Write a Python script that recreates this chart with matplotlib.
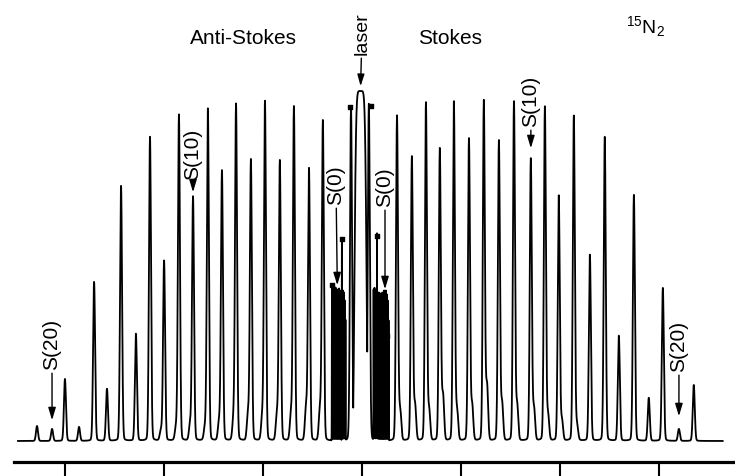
import numpy as np
import matplotlib
matplotlib.use("Agg")
import matplotlib.pyplot as plt

plt.rcParams['font.family'] = ['Liberation Sans', 'DejaVu Sans']
plt.rcParams['mathtext.default'] = 'regular'

# ---- data (Raman shift in cm-1, anti-Stokes negative; intensity arb.) ----
anti_stokes_shift = [-163.9, -156.3, -149.8, -142.7, -135.1, -128.6, -121.5, -114.0, -106.9,
                     -99.8, -92.3, -85.2, -77.7, -70.6, -63.5, -56.0, -48.9, -41.4, -34.3,
                     -26.7, -19.7]
anti_stokes_int = [15, 12, 62, 14, 159, 52, 255, 107, 304, 180, 326, 244, 332, 270, 336, 281,
                   339, 280, 334, 272, 320]

stokes_shift = [17.7, 25.2, 32.3, 39.3, 46.4, 54.0, 61.5, 69.1, 76.7, 85.2, 92.3, 99.3, 106.9,
                115.0, 122.5, 129.6, 137.2, 144.7, 151.8, 159.9, 167.4]
stokes_int = [325, 284, 338, 292, 339, 302, 340, 300, 339, 282, 334, 245, 325, 186, 304, 105,
              246, 43, 153, 12, 56]

# strong lines flanking the laser
flank_shift = [-5.5, 3.5]
flank_int = [334, 337]

# densely packed, heavily inked S(0) regions
as0_shift = [-15.1, -14.65, -14.2, -13.75, -13.3, -12.85, -12.4, -11.95, -11.5, -11.05,
             -10.6, -10.1, -9.65, -9.2, -8.75, -8.3]
as0_int = [155, 150, 152, 148, 153, 150, 151, 149, 152, 150, 148, 200, 150, 148, 140, 120]
s0_shift = [5.9, 6.35, 6.8, 7.25, 7.6, 8.05, 8.5, 8.95, 9.4, 9.85, 10.3, 10.75, 11.2, 11.65,
            12.1, 12.55, 13.0, 13.45]
s0_int = [150, 152, 150, 148, 207, 146, 148, 145, 147, 146, 148, 145, 150, 147, 150, 146,
          140, 120]

# weak shoulders at the feet of the rotational lines
weak_shift = [-101.4, -93.8, -86.7, -79.2, -72.1, -64.8, -57.5, -50.3, -42.9, -35.8, -28.2,
              -21.2, 19.3, 26.8, 33.9, 40.9, 48.0, 55.6, 63.1, 70.7, 78.3, 86.8, 93.9, 100.9,
              108.5]
weak_int = [10, 12, 15, 12, 18, 20, 25, 22, 25, 25, 32, 30, 30, 35, 30, 45, 30, 35, 55, 37,
            35, 32, 25, 20, 15]

laser_shift = -0.7
laser_int = 350
laser_halfwidth = 3.2

# small square markers (shift, intensity)
marker_shift = [-6.1, 4.6, -10.1, -15.1, 7.6, 12.6]
marker_int = [334, 335, 202, 156, 205, 105]

tick_values = [-150, -100, -50, 0, 50, 100, 150]

label_text = ['S(20)', 'S(10)', 'S(0)', 'S(0)', 'S(10)', 'S(20)']

# ---- build trace ----
x = np.arange(-173.5, 182.0, 0.01)


def add_lines(pos, hts, sigma, gamma=0.8, frac=0.04):
    out = np.zeros_like(x)
    for p, h in zip(pos, hts):
        out += h * ((1 - frac) * np.exp(-0.5 * ((x - p) / sigma)**2)
                    + frac * gamma**2 / ((x - p)**2 + gamma**2))
    return out


lines = add_lines(anti_stokes_shift + flank_shift + stokes_shift,
                  anti_stokes_int + flank_int + stokes_int, 0.5)
lines += add_lines(weak_shift, weak_int, 0.55, frac=0.0)
lines += add_lines(as0_shift + s0_shift, as0_int + s0_int, 0.07, frac=0.0)
laser = laser_int * np.exp(-np.abs((x - laser_shift) / laser_halfwidth)**6)
y = np.maximum(lines, laser)

W, H = 735, 477
fig = plt.figure(figsize=(W / 100, H / 100), dpi=100)
ax = fig.add_axes([14 / W, 14 / H, 721 / W, 463 / H])
ax.plot(x, y, color='black', lw=1.3)
ax.set_xlim(-175.5, 188.2)
ax.set_ylim(-21, 442)

ax.scatter(marker_shift, marker_int, marker='s', s=6, color='black', zorder=3)

for s in ['left', 'right', 'top']:
    ax.spines[s].set_visible(False)
ax.spines['bottom'].set_linewidth(2.3)
ax.set_yticks([])
ax.set_xticks(tick_values)
ax.set_xticklabels([])
ax.tick_params(axis='x', direction='out', length=10, width=1.5)


def fp(px, py):
    return (px, H - py)


fs = 15
ax.text(*fp(243, 39), 'Anti-Stokes', transform=None, ha='center', va='center', fontsize=fs)
ax.text(*fp(450, 39), 'Stokes', transform=None, ha='center', va='center', fontsize=fs)
ax.text(*fp(645, 27), '$^{15}$N$_2$', transform=None, ha='center', va='center', fontsize=14)

arrow = dict(arrowstyle='-|>,head_length=0.5,head_width=0.15', color='black', lw=1.0,
             shrinkA=1, shrinkB=2)

ax.annotate('laser', xy=(laser_shift, laser_int + 2), xycoords='data',
            xytext=fp(362, 55), textcoords='figure pixels', rotation=90,
            ha='center', va='bottom', fontsize=14, arrowprops=arrow)

label_targets = [
    (anti_stokes_shift[1], anti_stokes_int[1] + 6, 52, 370),
    (anti_stokes_shift[11], anti_stokes_int[11] + 2, 193, 180),
    (as0_shift[6], as0_int[6] + 2, 336, 205),
    (s0_shift[13], s0_int[13] + 2, 385, 207),
    (stokes_shift[9], stokes_int[9] + 8, 531, 127),
    (stokes_shift[19], stokes_int[19] + 10, 679, 372),
]
for txt, (xs, yi, tx, ty) in zip(label_text, label_targets):
    ax.annotate(txt, xy=(xs, yi), xycoords='data', xytext=fp(tx, ty),
                textcoords='figure pixels', rotation=90, ha='center', va='bottom',
                fontsize=fs, arrowprops=arrow)

fig.savefig('out.png', dpi=100)
